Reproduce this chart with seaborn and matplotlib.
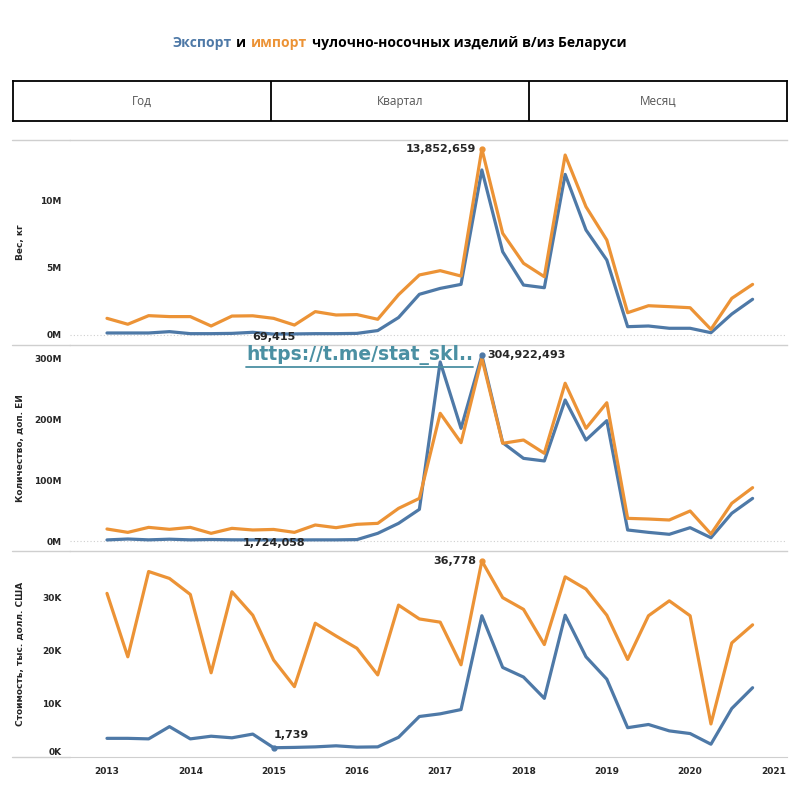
import numpy as np
import pandas as pd
import seaborn as sns
import matplotlib.pyplot as plt
from matplotlib.ticker import FuncFormatter
from matplotlib.lines import Line2D
from matplotlib.offsetbox import TextArea, HPacker, AnchoredOffsetbox

# quarterly data, 2013 Q1 .. 2020 Q4
quarters = [2013 + 0.25 * i for i in range(32)]

# weight, million kg
export_weight = [0.15, 0.15, 0.15, 0.25, 0.10, 0.10, 0.12, 0.20, 0.069415, 0.08, 0.10, 0.10,
                 0.12, 0.33, 1.30, 3.03, 3.47, 3.77, 12.29, 6.20, 3.72, 3.52, 11.96, 7.82,
                 5.58, 0.62, 0.67, 0.50, 0.50, 0.17, 1.56, 2.66]
import_weight = [1.24, 0.80, 1.44, 1.37, 1.37, 0.67, 1.41, 1.43, 1.24, 0.74, 1.74, 1.49,
                 1.52, 1.17, 3.00, 4.47, 4.79, 4.39, 13.852659, 7.57, 5.34, 4.34, 13.40, 9.55,
                 7.07, 1.66, 2.18, 2.11, 2.03, 0.42, 2.73, 3.77]

# quantity, million units
export_qty = [1.8, 3.3, 1.9, 3.0, 1.9, 2.5, 2.0, 1.9, 1.724058, 1.8, 1.9, 1.9,
              2.3, 12.6, 29.0, 52.0, 294.0, 185.0, 304.922493, 161.4, 135.7, 131.4, 231.5, 165.8,
              197.6, 18.1, 14.2, 11.0, 21.9, 5.4, 45.5, 70.0]
import_qty = [19.7, 14.2, 22.4, 19.2, 22.4, 12.6, 20.8, 18.1, 19.0, 14.2, 26.3, 21.9,
              27.4, 29.0, 53.6, 70.0, 209.7, 161.4, 300.0, 160.4, 165.8, 144.0, 259.0, 185.0,
              227.0, 37.2, 36.1, 34.5, 49.3, 11.5, 61.9, 87.6]

# value, thousand USD
export_value = [3.5, 3.5, 3.4, 5.7, 3.4, 3.9, 3.6, 4.3, 1.739, 1.8, 1.9, 2.1,
                1.85, 1.9, 3.7, 7.6, 8.1, 8.9, 26.5, 16.8, 15.0, 11.0, 26.6, 18.8,
                14.6, 5.5, 6.1, 4.9, 4.4, 2.4, 9.1, 13.0]
import_value = [30.7, 18.8, 34.8, 33.5, 30.5, 15.8, 31.0, 26.6, 18.2, 13.2, 25.1, 22.7,
                20.4, 15.4, 28.5, 25.9, 25.3, 17.3, 36.778, 29.9, 27.7, 21.1, 33.8, 31.5,
                26.6, 18.3, 26.5, 29.3, 26.5, 6.2, 21.4, 24.8]

flows = ['Экспорт', 'Импорт']
years = list(range(2013, 2022))
panel_labels = ['Вес, кг', 'Количество, доп. ЕИ', 'Стоимость, тыс. долл. США']
buttons = ['Год', 'Квартал', 'Месяц']

BLUE = '#4e79a7'
ORANGE = '#ec9336'
LINK = '#4b90a3'
GRID = '#cfcfcf'

df = pd.DataFrame({
    't': quarters * 2,
    'flow': [flows[0]] * 32 + [flows[1]] * 32,
    'weight': np.array(export_weight + import_weight) * 1e6,
    'qty': np.array(export_qty + import_qty) * 1e6,
    'value': np.array(export_value + import_value) * 1e3,
})

sns.set_style('white')
plt.rcParams['font.family'] = ['DejaVu Sans']

W, H = 799, 799
fig = plt.figure(figsize=(W / 100, H / 100), dpi=100)


def box(x0, y0, x1, y1):
    return [x0 / W, 1 - y1 / H, (x1 - x0) / W, (y1 - y0) / H]


# title with coloured words
tp = dict(fontweight='bold', fontsize=10, family='Open Sans')
parts = [TextArea('Экспорт', textprops=dict(color=BLUE, **tp)),
         TextArea('и', textprops=dict(color='black', **tp)),
         TextArea('импорт', textprops=dict(color=ORANGE, **tp)),
         TextArea('чулочно-носочных изделий в/из Беларуси', textprops=dict(color='black', **tp))]
pack = HPacker(children=parts, align='baseline', pad=0, sep=3.5)
fig.add_artist(AnchoredOffsetbox(loc='center', child=pack, pad=0, borderpad=0, frameon=False,
                                 bbox_to_anchor=(0.5, 1 - 43 / H),
                                 bbox_transform=fig.transFigure))

# button bar
bax = fig.add_axes(box(13, 81, 787, 121))
bax.set_xlim(0, 3)
bax.set_ylim(0, 1)
bax.set_xticks([])
bax.set_yticks([])
for s in bax.spines.values():
    s.set_color('black')
    s.set_linewidth(1.3)
for k, b in enumerate(buttons):
    bax.text(k + 0.5, 0.5, b, ha='center', va='center', fontsize=8.5,
             family='Open Sans', color='#555555')
    if k:
        bax.axvline(k, color='black', lw=1.3)

# panels
panels = [(140, 345, 'weight', (-0.745e6, 14.52e6), [0, 5e6, 10e6], lambda v, p: f'{v / 1e6:.0f}M'),
          (345, 551, 'qty', (-16.4e6, 321.8e6), [0, 100e6, 200e6, 300e6], lambda v, p: f'{v / 1e6:.0f}M'),
          (551, 757, 'value', (0, 38.65e3), [0, 10e3, 20e3, 30e3], lambda v, p: f'{v / 1e3:.0f}K')]

axes = []
for n, (y0, y1, col, ylim, ticks, fmt) in enumerate(panels):
    ax = fig.add_axes(box(70, y0, 787, y1))
    sns.lineplot(data=df, x='t', y=col, hue='flow', palette=[BLUE, ORANGE],
                 hue_order=flows, legend=False, lw=2.3, ax=ax)
    ax.set_xlim(2012.556, 2021.163)
    ax.set_ylim(*ylim)
    ax.set_yticks(ticks)
    ax.yaxis.set_major_formatter(FuncFormatter(fmt))
    ax.tick_params(axis='y', length=0, pad=6, labelsize=6.5)
    for lbl in ax.get_yticklabels():
        lbl.set_fontweight('bold')
    ax.set_ylabel(panel_labels[n], fontsize=6.5, fontweight='bold')
    ax.yaxis.set_label_coords(-(70 - 25) / (787 - 70), 0.5)
    ax.set_xlabel('')
    for s in ['left', 'right', 'bottom']:
        ax.spines[s].set_visible(False)
    ax.spines['top'].set_color(GRID)
    ax.spines['top'].set_linewidth(1)
    if n < 2:
        ax.axhline(0, color=GRID, ls=(0, (1, 2)), lw=0.8, zorder=0)
        ax.set_xticks([])
    else:
        ax.spines['bottom'].set_visible(True)
        ax.spines['bottom'].set_color(GRID)
        ax.set_xticks(years)
        ax.set_xticklabels([str(y) for y in years], fontsize=6.5, fontweight='bold')
        ax.tick_params(axis='x', length=0, pad=7)
        ax.get_yticklabels()[0].set_va('bottom')
    axes.append(ax)

# extend separator lines to the left edge
for y in [140, 345, 551, 757]:
    fig.add_artist(Line2D([12 / W, 70 / W], [1 - y / H, 1 - y / H], color=GRID, lw=1,
                          transform=fig.transFigure))

ann = dict(fontsize=8, fontweight='bold', textcoords='offset points')

# panel 1 labels
i = int(np.argmax(import_weight))
v = import_weight[i] * 1e6
axes[0].plot(quarters[i], v, 'o', color=ORANGE, ms=3.5)
axes[0].annotate(f'{v:,.0f}', (quarters[i], v), xytext=(-4, 0), ha='right', va='center', **ann)
i = int(np.argmin(export_weight))
v = export_weight[i] * 1e6
axes[0].annotate(f'{v:,.0f}', (quarters[i], v), xytext=(0, -2), ha='center', va='center',
                 annotation_clip=False, **ann)

# panel 2 labels
i = int(np.argmax(export_qty))
v = export_qty[i] * 1e6
axes[1].plot(quarters[i], v, 'o', color=BLUE, ms=3.5)
axes[1].annotate(f'{v:,.0f}', (quarters[i], v), xytext=(4, 0), ha='left', va='center', **ann)
i = int(np.argmin(export_qty))
v = export_qty[i] * 1e6
axes[1].annotate(f'{v:,.0f}', (quarters[i], v), xytext=(0, -2.5), ha='center', va='center',
                 annotation_clip=False, **ann)

# panel 3 labels
i = int(np.argmax(import_value))
v = import_value[i] * 1e3
axes[2].plot(quarters[i], v, 'o', color=ORANGE, ms=3.5)
axes[2].annotate(f'{v:,.0f}', (quarters[i], v), xytext=(-4, 0), ha='right', va='center', **ann)
i = int(np.argmin(export_value))
v = export_value[i] * 1e3
axes[2].plot(quarters[i], v, 'o', color=BLUE, ms=3.5)
axes[2].annotate(f'{v:,.0f}', (quarters[i], v), xytext=(0, 9), ha='left', va='center', **ann)

# link watermark
link = fig.text(246 / W, 1 - 355 / H, 'https://t.me/stat_skl..', color=LINK, fontsize=13.5,
                fontweight='bold', ha='left', va='center')
fig.canvas.draw()
bb = link.get_window_extent().transformed(fig.transFigure.inverted())
uy = bb.y0 - 1.5 / H
fig.add_artist(Line2D([bb.x0, bb.x1], [uy, uy], color=LINK, lw=1.3,
                      transform=fig.transFigure))

fig.savefig('out.png', dpi=100)
